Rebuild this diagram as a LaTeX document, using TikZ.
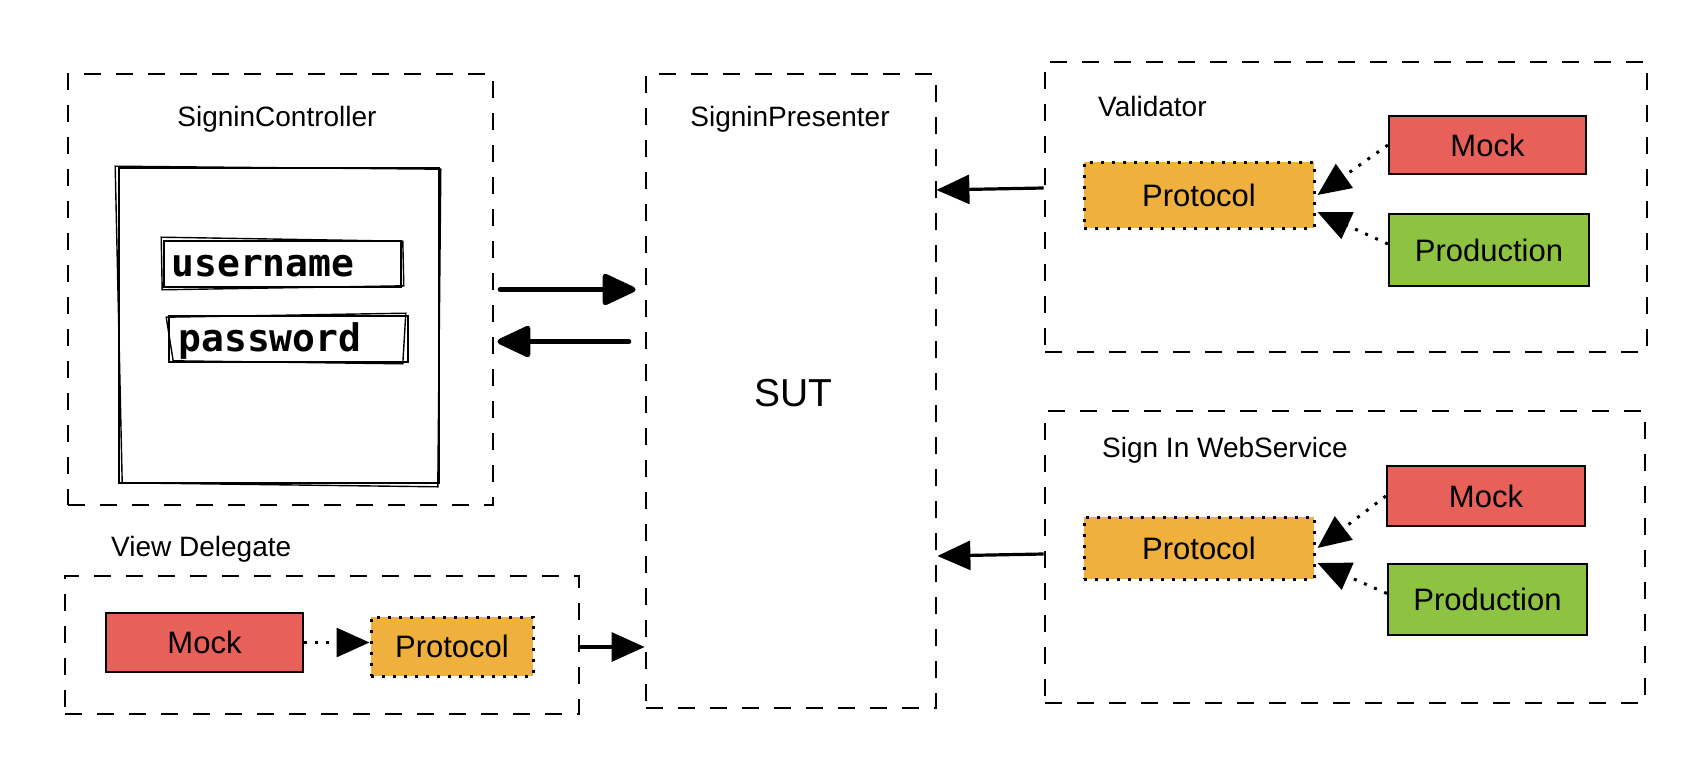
\documentclass[tikz,border=0pt]{standalone}
\usepackage{fontspec}
\setmainfont{Liberation Sans}
\newfontfamily\monofont{DejaVu Sans Mono}
\usetikzlibrary{arrows.meta,calc}
\definecolor{mockred}{HTML}{E8605A}
\definecolor{protoorange}{HTML}{EFB03E}
\definecolor{prodgreen}{HTML}{8DC340}
\begin{document}
\begin{tikzpicture}[x=1bp,y=-1bp,
  group/.style={draw, rectangle, inner sep=0pt, line width=2.8bp, dash pattern=on 17bp off 15bp},
  lbl/.style={inner sep=0pt, font=\fontsize{28bp}{32bp}\selectfont},
  boxtxt/.style={rectangle, inner sep=0pt, font=\fontsize{31bp}{36bp}\selectfont},
  mockbox/.style={boxtxt, draw, line width=2.2bp, fill=mockred},
  prodbox/.style={boxtxt, draw, line width=2.2bp, fill=prodgreen},
  protobox/.style={boxtxt, draw, fill=protoorange, line width=3bp, dash pattern=on 3bp off 8bp},
  sketch/.style={draw, rectangle, inner sep=0pt, line width=1.6bp},
  mono/.style={inner sep=0pt, font=\monofont\bfseries\fontsize{38bp}{44bp}\selectfont},
  bigarrow/.style={line width=5.5bp, line cap=round, -{Triangle[length=37bp,width=33bp,round]}},
  conn/.style={line width=3.2bp, -{Triangle[length=33bp,width=29bp]}},
  dotconn/.style={line width=3bp, dash pattern=on 3bp off 8bp, -{Triangle[length=33bp,width=29bp]}}
]
\useasboundingbox (0,0) rectangle (1696,762);

% SigninController
\node[group, minimum width=425bp, minimum height=431bp] (ctrl) at (280.5,289.5) {};
\node[lbl] (ctrltitle) at (277,119) {SigninController};
\node[sketch, minimum width=320bp, minimum height=315bp] (form) at (279,325.5) {};
\draw[line width=1.4bp] ([shift={(-3,-1)}]form.north west) -- ([shift={(1,2)}]form.north east)
  -- ([shift={(-2,3)}]form.south east) -- ([shift={(4,-1)}]form.south west) -- cycle;
\node[sketch, minimum width=237bp, minimum height=46bp] (user) at (282.5,264) {};
\draw[line width=1.4bp] ([shift={(-2,-3)}]user.north west) -- ([shift={(1,1)}]user.north east)
  -- ([shift={(2,-2)}]user.south east) -- ([shift={(-1,2)}]user.south west) -- cycle;
\node[mono, anchor=west] (usertxt) at ([shift={(8,2)}]user.west) {username};
\node[sketch, minimum width=239bp, minimum height=46bp] (pass) at (288.5,339) {};
\draw[line width=1.4bp] ([shift={(-2,2)}]pass.north west) -- ([shift={(-3,-2)}]pass.north east)
  -- ([shift={(-6,1)}]pass.south east) -- ([shift={(5,-2)}]pass.south west) -- cycle;
\node[mono, anchor=west] (passtxt) at ([shift={(10,2)}]pass.west) {password};

% SigninPresenter
\node[group, minimum width=290bp, minimum height=634bp] (pres) at (791,391) {};
\node[lbl] (prestitle) at (790,119) {SigninPresenter};
\node[inner sep=0pt, font=\fontsize{39bp}{44bp}\selectfont] (sut) at (793,393) {SUT};

% arrows controller <-> presenter
\draw[bigarrow] ([shift={(6,0)}]ctrl.east) -- ([shift={(-9,0)}]ctrl.east -| pres.west);
\draw[bigarrow] ([shift={(-16,52)}]ctrl.east -| pres.west) -- ([shift={(3,52)}]ctrl.east);

% Validator
\node[group, minimum width=602bp, minimum height=290bp] (vbox) at (1346,207) {};
\node[lbl, anchor=west] (vlabel) at (1098,106) {Validator};
\node[protobox, minimum width=230bp, minimum height=66bp] (pv) at (1199,195) {Protocol};
\node[mockbox, minimum width=197bp, minimum height=58bp] (mv) at (1487.5,145) {Mock};
\node[prodbox, minimum width=200bp, minimum height=72bp] (prv) at (1489,250) {Production};
\draw[dotconn] (mv.west) -- ([shift={(2,0)}]pv.east);
\draw[dotconn] ([shift={(0,-6)}]prv.west) -- ([shift={(2,17)}]pv.east);
\draw[conn] ([shift={(0,-7)}]vbox.west |- pv.center) -- ([shift={(-1,-5)}]pres.east |- pv.center);

% Sign In WebService
\node[group, minimum width=600bp, minimum height=292bp] (wbox) at (1345,557) {};
\node[lbl, anchor=west] (wlabel) at (1102,450) {Sign In WebService};
\node[protobox, minimum width=230bp, minimum height=62bp] (pw) at (1199,548) {Protocol};
\node[mockbox, minimum width=198bp, minimum height=60bp] (mw) at (1486,496) {Mock};
\node[prodbox, minimum width=199bp, minimum height=71bp] (prw) at (1487.5,599.5) {Production};
\draw[dotconn] (mw.west) -- ([shift={(2,0)}]pw.east);
\draw[dotconn] ([shift={(0,-6)}]prw.west) -- ([shift={(2,15)}]pw.east);
\draw[conn] ([shift={(0,6)}]wbox.west |- pw.center) -- ([shift={(0,8)}]pres.east |- pw.center);

% View Delegate
\node[lbl, anchor=west] (vdlabel) at (111,549) {View Delegate};
\node[group, minimum width=514bp, minimum height=138bp] (vd) at (322,645) {};
\node[mockbox, minimum width=197bp, minimum height=59bp] (md) at (204.5,642.5) {Mock};
\node[protobox, minimum width=162bp, minimum height=59bp] (pd) at (452,646.5) {Protocol};
\draw[dotconn] (md.east) -- (md.east -| pd.west);
\draw[conn] ([shift={(-2,2)}]vd.east) -- ([shift={(0,2)}]vd.east -| pres.west);
\end{tikzpicture}
\end{document}
